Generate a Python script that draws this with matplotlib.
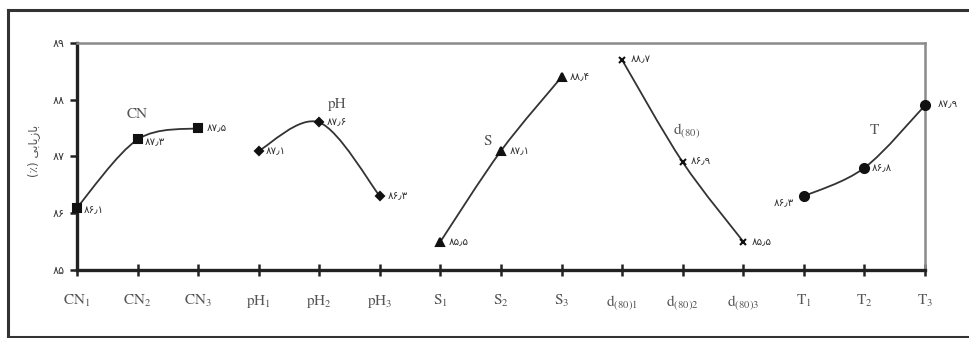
import matplotlib
matplotlib.use("Agg")
import matplotlib.pyplot as plt
from matplotlib.path import Path
from matplotlib.patches import PathPatch
from matplotlib.lines import Line2D

plt.rcParams['font.family'] = ['DejaVu Sans']
plt.rcParams['mathtext.fontset'] = 'stix'

# categories along the x axis
categories = [r'$\mathrm{CN_1}$', r'$\mathrm{CN_2}$', r'$\mathrm{CN_3}$',
              r'$\mathrm{pH_1}$', r'$\mathrm{pH_2}$', r'$\mathrm{pH_3}$',
              r'$\mathrm{S_1}$', r'$\mathrm{S_2}$', r'$\mathrm{S_3}$',
              r'$\mathrm{d_{(80)1}}$', r'$\mathrm{d_{(80)2}}$', r'$\mathrm{d_{(80)3}}$',
              r'$\mathrm{T_1}$', r'$\mathrm{T_2}$', r'$\mathrm{T_3}$']

# recovery values (%) per parameter group
cn_values = [86.1, 87.3, 87.5]
ph_values = [87.1, 87.6, 86.3]
s_values = [85.5, 87.1, 88.4]
d80_values = [88.7, 86.9, 85.5]
t_values = [86.3, 86.8, 87.9]

group_names = ['CN', 'pH', 'S', r'$\mathrm{d_{(80)}}$', 'T']
y_ticks = [85, 86, 87, 88, 89]

FA_DIGITS = str.maketrans('0123456789.', '۰۱۲۳۴۵۶۷۸۹٫')


def fa(v):
    return str(v).translate(FA_DIGITS)


def smooth_path(xs, ys):
    """Cubic Bezier path through the points (Catmull-Rom style smoothing)."""
    pts = list(zip(xs, ys))
    n = len(pts)
    verts = [pts[0]]
    codes = [Path.MOVETO]
    for i in range(n - 1):
        p0 = pts[i - 1] if i > 0 else pts[i]
        p1 = pts[i]
        p2 = pts[i + 1]
        p3 = pts[i + 2] if i + 2 < n else pts[i + 1]
        c1 = (p1[0] + (p2[0] - p0[0]) / 6, p1[1] + (p2[1] - p0[1]) / 6)
        c2 = (p2[0] - (p3[0] - p1[0]) / 6, p2[1] - (p3[1] - p1[1]) / 6)
        verts += [c1, c2, p2]
        codes += [Path.CURVE4] * 3
    return Path(verts, codes)


fig = plt.figure(figsize=(9.7, 3.38), dpi=100)
ax = fig.add_axes([0.0794, 0.2012, 0.8742, 0.6716])

line_col = '#333333'
series = [
    (cn_values, 's', 6, 0, [(5, -2), (5, -2), (6, 0)]),
    (ph_values, 'D', 4.5, 3, [(5, 0), (5, 0), (6, 0)]),
    (s_values, '^', 6, 6, [(6, 0), (6, 0), (6, 0)]),
    (d80_values, 'x', 5, 9, [(6, 1), (6, 1), (6, 0)]),
    (t_values, 'o', 6.5, 12, [(-7, -5), (5, 0), (9, 1)]),
]

for vals, mk, ms, start, offsets in series:
    xs = list(range(start, start + len(vals)))
    ax.add_patch(PathPatch(smooth_path(xs, vals), fill=False,
                           edgecolor=line_col, lw=1.3, clip_on=False, zorder=3))
    ax.plot(xs, vals, linestyle='none', marker=mk, ms=ms, color='#111111',
            mew=1.5, clip_on=False, zorder=4)
    for x, v, off in zip(xs, vals, offsets):
        ax.annotate(fa(v), (x, v), xytext=off, textcoords='offset points',
                    ha='left' if off[0] > 0 else 'right', va='center',
                    fontsize=7.5, color='#333333')

# group names
name_pos = [(1.0, 87.75), (4.3, 87.92), (6.77, 87.27), (10.07, 87.45), (13.17, 87.47)]
for name, (x, y) in zip(group_names, name_pos):
    ax.text(x, y, name, ha='center', va='center', fontsize=11,
            color='#555555', family='STIXGeneral' if not name.startswith('$') else None)

ax.set_xlim(0, 14)
ax.set_ylim(85, 89)
ax.set_xticks(range(len(categories)))
ax.set_xticklabels(categories, fontsize=11, color='#555555')
ax.set_yticks(y_ticks)
ax.set_yticklabels([fa(t) for t in y_ticks], fontsize=8, color='#333333')
ax.tick_params(axis='x', direction='inout', length=9, width=1.8, pad=12,
               color='#222222')
ax.tick_params(axis='y', direction='out', length=5, width=1.8, pad=4,
               color='#222222')

for side in ('left', 'bottom'):
    ax.spines[side].set_linewidth(2.4)
    ax.spines[side].set_color('#222222')
for side in ('top', 'right'):
    ax.spines[side].set_linewidth(1.8)
    ax.spines[side].set_color('#8a8a8a')

# y label: "بازیابی (٪)" in shaped, visual order
ylabel = '(\u066A) ' + '\uFEF0\uFE91\uFE8E\uFEF3\uFEAF\uFE8E\uFE91'
fig.text(0.036, 0.555, ylabel, rotation=90, ha='center', va='center',
         fontsize=8.5, color='#555555')

# outer frame
frame_kw = dict(color='#333333', lw=2.2, transform=fig.transFigure)
fig.add_artist(Line2D([0.0085, 1.0], [0.970, 0.970], **frame_kw))
fig.add_artist(Line2D([0.0085, 0.0085], [0.970, 0.004], **frame_kw))
fig.add_artist(Line2D([0.0085, 1.0], [0.004, 0.004], **frame_kw))

fig.savefig('out.png', dpi=100)
